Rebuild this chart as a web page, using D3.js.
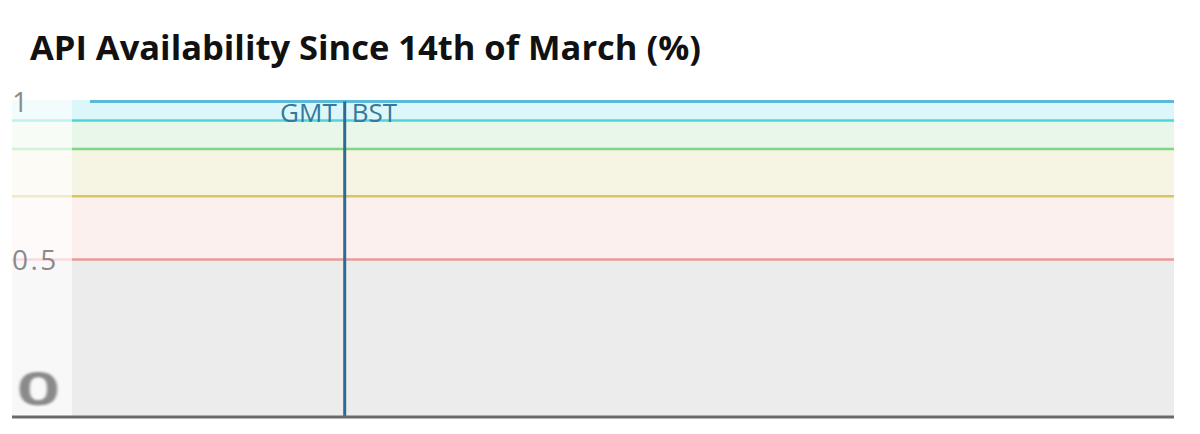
<!DOCTYPE html>
<html><head><meta charset="utf-8">
<script src="https://cdn.jsdelivr.net/npm/d3@7/dist/d3.min.js"></script>
<style>body{margin:0;background:#fff;}svg{display:block;}</style>
</head><body>
<svg id="c" width="1200" height="434"></svg>
<script>
// ---- data ----
const title = "API Availability Since 14th of March (%)";
const yTicks = [0.5, 1];
const bandBounds = [0, 0.5, 0.7, 0.85, 0.94, 1];
const bandFills = ["#ececec", "#fcf0ef", "#f6f4e3", "#e8f7e9", "#dcf7f9"];
const bandLines = ["#e99a9a", "#d5c65e", "#80d683", "#4ed5dc"];
const dates = ["2021-03-14","2021-03-21","2021-03-28","2021-04-04","2021-04-11","2021-04-18","2021-04-25","2021-05-02","2021-05-09","2021-05-12T18:00"];
const availability = [1, 1, 1, 1, 1, 1, 1, 1, 1, 1];
const switchDate = "2021-03-28T01:00";
const switchLabels = ["GMT", "BST"];
const xDomain = ["2021-03-13T00:15", "2021-05-12T18:00"];

const svg = d3.select("#c");
const font = "'Open Sans', sans-serif";
const parse = s => new Date(s);
const x = d3.scaleTime().domain(xDomain.map(parse)).range([72, 1174]);
const y = d3.scaleLinear().domain([0, 1]).range([417.5, 101.5]);

const defs = svg.append("defs");
defs.append("filter").attr("id", "soft").append("feGaussianBlur").attr("stdDeviation", 0.8);

svg.append("text").attr("x", 30).attr("y", 60).text(title)
  .attr("font-family", font).attr("font-weight", 700).attr("font-size", 34.5)
  .attr("fill", "#111");

const L = 12, R = 1174;
// bands
for (let i = 0; i < bandFills.length; i++) {
  const top = i === bandFills.length - 1 ? y(bandBounds[i+1]) - 1.5 : y(bandBounds[i+1]);
  svg.append("rect").attr("x", L).attr("width", R - L)
    .attr("y", top).attr("height", y(bandBounds[i]) - top).attr("fill", bandFills[i]);
}
for (let i = 0; i < bandLines.length; i++) {
  svg.append("line").attr("x1", L).attr("x2", R)
    .attr("y1", y(bandBounds[i+1])).attr("y2", y(bandBounds[i+1]))
    .attr("stroke", bandLines[i]).attr("stroke-width", 2.5);
}
// faded left strip
svg.append("rect").attr("x", L).attr("width", 72 - L).attr("y", y(1) - 2)
  .attr("height", y(0) - y(1) + 2).attr("fill", "#fff").attr("opacity", 0.65);

// data line
const line = d3.line().x((d, i) => x(parse(dates[i]))).y(d => y(d));
svg.append("path").datum(availability).attr("d", line)
  .attr("fill", "none").attr("stroke", "#5cb9d9").attr("stroke-width", 3);

// switch line
const sx = x(parse(switchDate));
svg.append("line").attr("x1", sx).attr("x2", sx).attr("y1", y(1)).attr("y2", y(0))
  .attr("stroke", "#2a6c97").attr("stroke-width", 3);
svg.append("text").attr("x", sx - 8).attr("y", 122).attr("text-anchor", "end")
  .text(switchLabels[0]).attr("font-family", font).attr("font-size", 26).attr("font-weight", 500).attr("fill", "#34789e");
svg.append("text").attr("x", sx + 7).attr("y", 122).attr("text-anchor", "start")
  .text(switchLabels[1]).attr("font-family", font).attr("font-size", 26).attr("font-weight", 500).attr("fill", "#34789e");

// y labels
yTicks.forEach(t => {
  svg.append("text").attr("x", 12).attr("y", y(t) + 10).text(d3.format("")(t))
    .attr("font-family", font).attr("font-size", 28).attr("letter-spacing", 2.5).attr("fill", "#8a8a8a");
});
// zero label (stretched, soft)
svg.append("text").attr("transform", "translate(38.5,405) scale(2.2,1.35)")
  .attr("text-anchor", "middle").text("0")
  .attr("font-family", font).attr("font-weight", 600).attr("font-size", 34)
  .attr("fill", "#8a8a8a").attr("stroke", "#8a8a8a").attr("stroke-width", 1.2)
  .attr("vector-effect", "non-scaling-stroke").attr("filter", "url(#soft)");

// bottom axis
svg.append("line").attr("x1", L).attr("x2", R).attr("y1", 417).attr("y2", 417)
  .attr("stroke", "#6a6a6a").attr("stroke-width", 3);
</script>
</body></html>
